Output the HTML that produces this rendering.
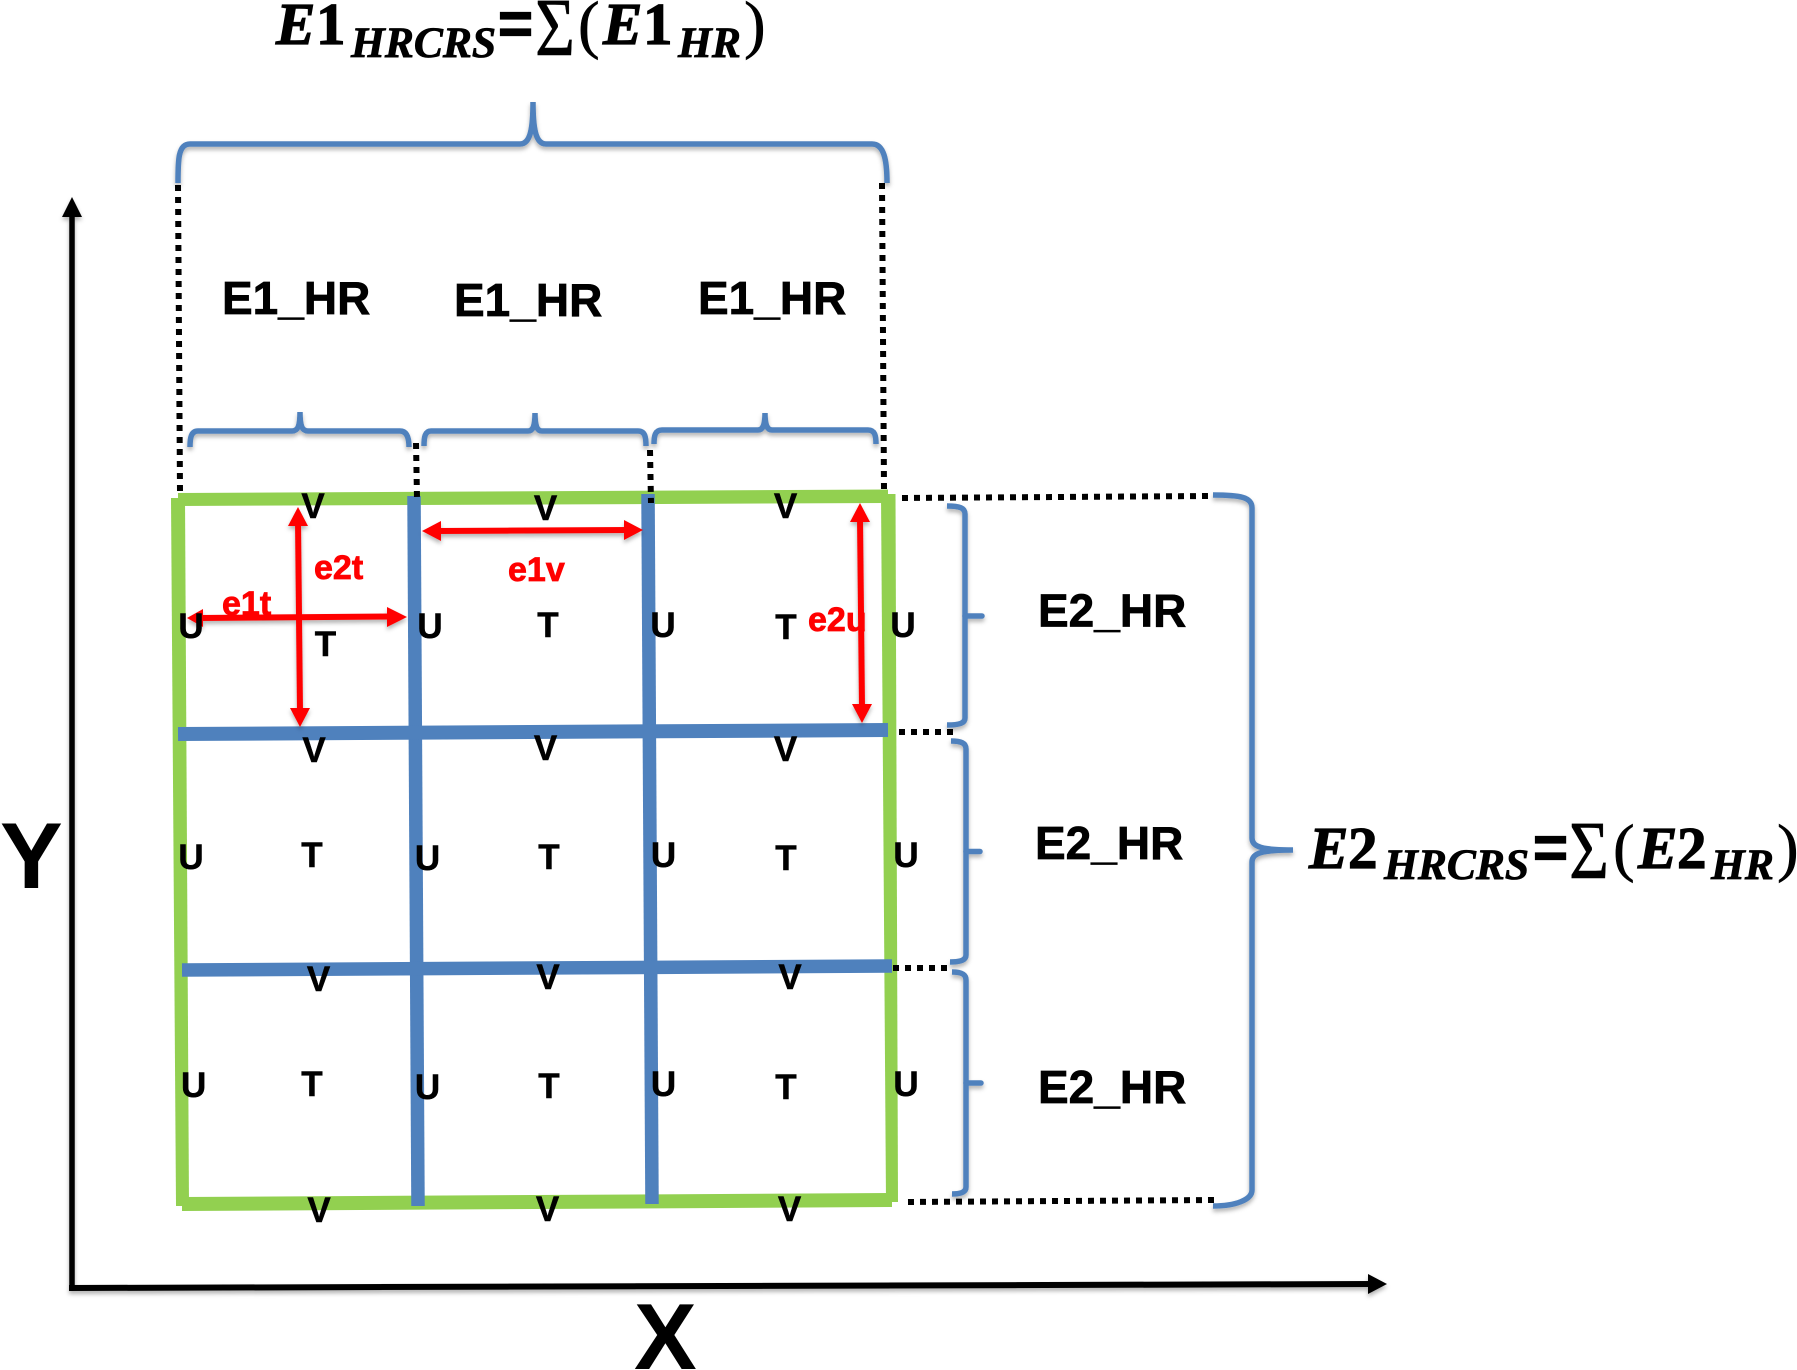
<!DOCTYPE html>
<html><head><meta charset="utf-8"><style>
html,body{margin:0;padding:0;background:#fff;width:1797px;height:1370px;overflow:hidden}
svg{display:block}
.s{font-family:"Liberation Sans",sans-serif;font-weight:bold}
.l{font-size:35px;fill:#000;stroke:#000;stroke-width:.5px;text-anchor:middle}
.h{font-size:46px;fill:#000;stroke:#000;stroke-width:.7px}
.r{font-size:34px;fill:#f00;stroke:#f00;stroke-width:.8px}
.f{font-family:"Liberation Serif",serif;font-weight:bold;fill:#000;stroke:#000;stroke-width:1.2px}
.big{font-size:59px}
.it{font-style:italic}
.sub{font-size:43.5px;font-style:italic;stroke-width:.8px}
.p{font-size:65px;font-weight:normal;stroke-width:.6px}
.g{font-weight:normal;stroke-width:.5px}
</style></head><body>
<svg width="1797" height="1370" viewBox="0 0 1797 1370" xmlns="http://www.w3.org/2000/svg">
<defs><filter id="sh" x="-10%" y="-10%" width="120%" height="120%"><feDropShadow dx="0" dy="3" stdDeviation="2" flood-color="#000" flood-opacity=".3"/></filter></defs>
<rect width="1797" height="1370" fill="#fff"/>

<!-- axes -->
<g filter="url(#sh)">
<path d="M72,1288 L72,212" stroke="#000" stroke-width="5.5" fill="none"/>
<polygon points="72,197 62,217 82,217" fill="#000"/>
<path d="M69,1288 L1372,1284" stroke="#000" stroke-width="6" fill="none"/>
<polygon points="1387,1284 1368,1274 1368,1294" fill="#000"/>
</g>

<!-- green frame -->
<g fill="#92d050">
<polygon points="178,493 888,489.5 888,503 178,506"/>
<polygon points="171,498 185,498 189,1206 176,1206"/>
<polygon points="881,494 895.5,494 898,1202 886,1202"/>
<polygon points="182,1197 892,1193 892,1207 182,1211"/>
</g>

<!-- blue grid -->
<g stroke="#4f81bd" stroke-width="13.5" fill="none">
<path d="M414,496 L418,1206"/>
<path d="M648,494 L652,1204"/>
<path d="M178,734 L888,730" stroke-width="14"/>
<path d="M182,970 L892,966" stroke-width="13.5"/>
</g>

<!-- dotted -->
<g stroke="#000" stroke-width="6" stroke-dasharray="6 6" fill="none">
<path d="M178,185 L180,493"/>
<path d="M882,183 L884,490"/>
<path d="M416,443 L417,498"/>
<path d="M650,450 L651,503"/>
<path d="M902,498 L1210,496"/>
<path d="M899,732 L953,732"/>
<path d="M893,968 L947,968"/>
<path d="M908,1202 L1214,1200"/>
</g>

<!-- braces -->
<g stroke="#4f81bd" fill="none" filter="url(#sh)">
<path stroke-width="5.5" d="M178,183 C178,160 178,144 190,144 L520,144 C530,144 533,130 533,102 C533,130 536,144 546,144 L872,144 C884,144 887,160 887,183"/>
<path stroke-width="5.5" d="M190,447 C190,438 191,431 198,431 L292,431 C298,431 300,426 300,412 C300,426 302,431 308,431 L400,431 C407,431 409,438 409,447"/>
<path stroke-width="5.5" d="M424,446 C424,437 425,431 431,431 L528,431 C533,431 535,426 535,413 C535,426 537,431 542,431 L638,431 C645,431 646,437 646,446"/>
<path stroke-width="5.5" d="M654,444 C654,436 655,430 662,430 L758,430 C763,430 765,425 765,413 C765,425 767,430 772,430 L868,430 C875,430 876,436 876,444"/>
<path stroke-width="5.5" d="M1213,495 C1240,495 1252,497 1252,508 L1252,838 C1252,847 1262,850 1293,850 C1262,850 1252,853 1252,862 L1252,1190 C1252,1200 1235,1206 1213,1206"/>
<path stroke-width="5.5" d="M947,506 C960,506 965,508 965,514 L965,718 C965,723 960,725 947,725"/>
<path stroke-width="5.5" stroke-linecap="round" d="M965,616 L982,616"/>
<path stroke-width="5.5" d="M951,741 C961,741 966,743 966,749 L966,955 C966,960 961,962 950,962"/>
<path stroke-width="5.5" stroke-linecap="round" d="M966,851.5 L980,851.5"/>
<path stroke-width="5.5" d="M952,972 C961,972 966,974 966,980 L966,1187 C966,1192 961,1194 952,1194"/>
<path stroke-width="5.5" stroke-linecap="round" d="M966,1083 L981,1083"/>
</g>

<!-- red arrows -->
<g filter="url(#sh)">
<g stroke="#f00" stroke-width="6" fill="none">
<path d="M298,520 L300,712"/>
<path d="M200,618 L392,616.5"/>
<path d="M436,531 L630,530"/>
<path d="M860,518 L862,708"/>
</g>
<g fill="#f00">
<polygon points="298,507 288,526 308,526"/><polygon points="300,727 290,708 310,708"/>
<polygon points="187,618 203,609 203,627"/><polygon points="407,617 387,607 387,627"/>
<polygon points="422,531 441,521 441,541"/><polygon points="643,530 624,520 624,540"/>
<polygon points="860,503 850,522 870,522"/><polygon points="862,723 852,704 872,704"/>
</g>
</g>

<!-- U V T labels -->
<g class="s l">
<text x="313" y="518">V</text><text x="545.5" y="520">V</text><text x="785.5" y="518">V</text>
<text x="191" y="638">U</text><text x="430" y="638">U</text><text x="663" y="637">U</text><text x="903" y="637">U</text>
<text x="325.5" y="656">T</text><text x="548" y="637">T</text><text x="786" y="639">T</text>
<text x="314" y="762">V</text><text x="545.5" y="760">V</text><text x="785.5" y="761">V</text>
<text x="191" y="869">U</text><text x="312" y="867">T</text><text x="427.5" y="870">U</text><text x="549" y="869">T</text><text x="663.5" y="867">U</text><text x="786" y="870">T</text><text x="906" y="867">U</text>
<text x="318.6" y="991">V</text><text x="548" y="989">V</text><text x="790" y="989">V</text>
<text x="193.7" y="1097">U</text><text x="312" y="1096">T</text><text x="427.5" y="1099">U</text><text x="549" y="1098">T</text><text x="663.5" y="1096">U</text><text x="786" y="1099">T</text><text x="906" y="1096">U</text>
<text x="319" y="1222">V</text><text x="547.5" y="1221">V</text><text x="789.5" y="1221">V</text>
</g>

<!-- red labels -->
<g class="s r">
<text x="314" y="579">e2t</text>
<text x="508" y="581">e1v</text>
<text x="222" y="615">e1t</text>
<text x="808" y="631">e2u</text>
</g>

<!-- HR labels -->
<g class="s h">
<text x="222" y="314">E1_HR</text>
<text x="454" y="316">E1_HR</text>
<text x="698" y="314">E1_HR</text>
<text x="1038" y="626.5">E2_HR</text>
<text x="1035" y="859">E2_HR</text>
<text x="1038" y="1103">E2_HR</text>
</g>

<!-- axis labels -->
<text class="s" x="0" y="888" font-size="94" fill="#000">Y</text>
<text class="s" x="634" y="1369" font-size="94" fill="#000">X</text>

<!-- formula 1 -->
<g class="f">
<text class="big it" x="276" y="44">E</text><text class="big" x="316" y="44">1</text>
<text class="sub" x="351" y="57">HRCRS</text>
<text x="498" y="44" font-size="60" style="font-family:'Liberation Sans',sans-serif">=</text>
<text class="g" x="535" y="55" font-size="83" textLength="40" lengthAdjust="spacingAndGlyphs">Σ</text>
<text class="p" x="578" y="46">(</text>
<text class="big it" x="603" y="44">E</text><text class="big" x="643" y="44">1</text>
<text class="sub" x="678" y="57">HR</text>
<text class="p" x="744" y="46">)</text>
</g>

<!-- formula 2 -->
<g class="f">
<text class="big it" x="1309" y="868">E</text><text class="big" x="1348" y="868">2</text>
<text class="sub" x="1384" y="879">HRCRS</text>
<text x="1533" y="868" font-size="60" style="font-family:'Liberation Sans',sans-serif">=</text>
<text class="g" x="1569" y="878" font-size="83" textLength="40" lengthAdjust="spacingAndGlyphs">Σ</text>
<text class="p" x="1613" y="869">(</text>
<text class="big it" x="1638" y="868">E</text><text class="big" x="1677" y="868">2</text>
<text class="sub" x="1711" y="879">HR</text>
<text class="p" x="1777" y="869">)</text>
</g>
</svg>
</body></html>
